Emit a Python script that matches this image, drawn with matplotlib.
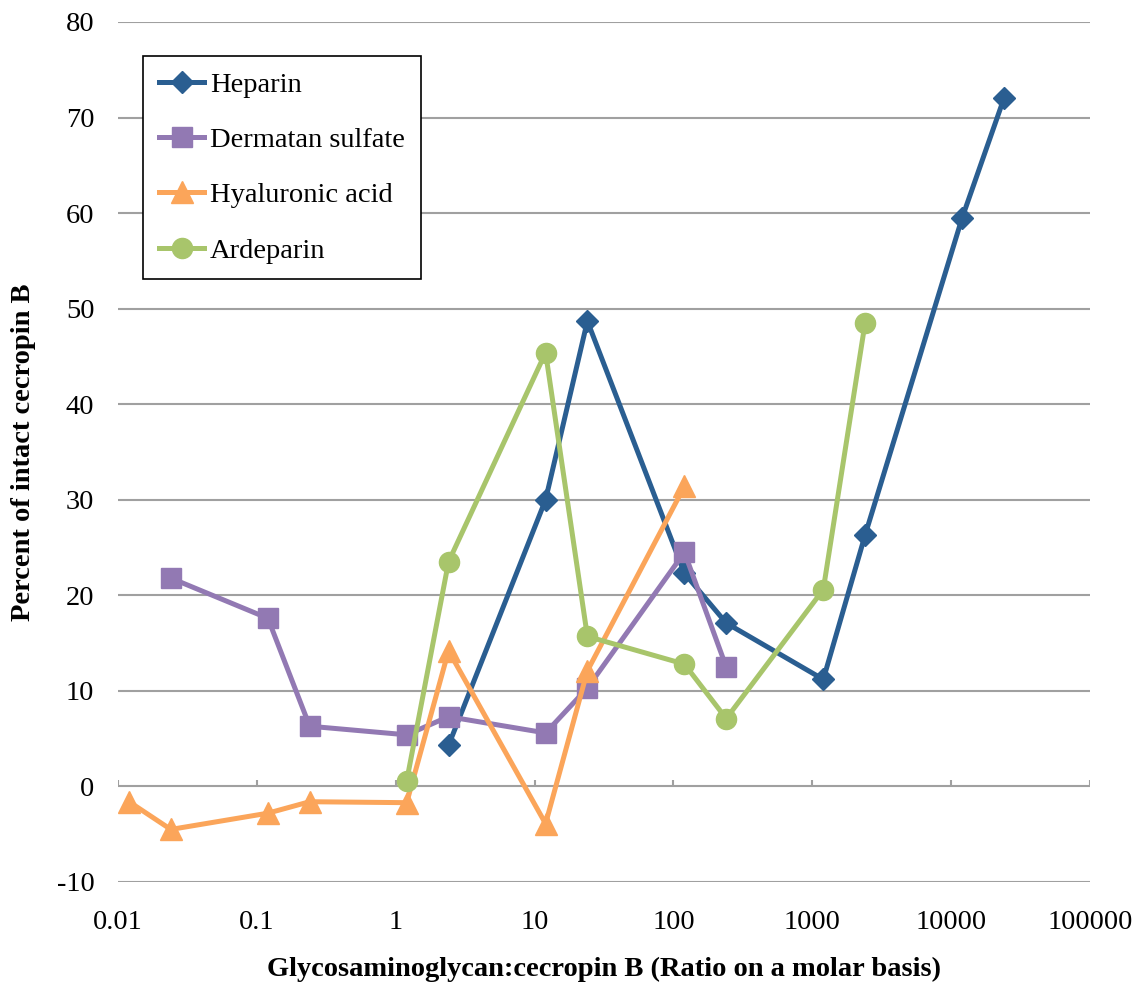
import matplotlib
matplotlib.use("Agg")
import matplotlib.pyplot as plt
from matplotlib.ticker import FixedLocator, FixedFormatter, NullLocator

plt.rcParams['font.family'] = ['Liberation Serif', 'DejaVu Serif']

# Molar ratio glycosaminoglycan:cecropin B
heparin_x = [2.4, 12, 24, 120, 240, 1200, 2400, 12000, 24000]
heparin_y = [4.3, 30.0, 48.7, 22.3, 17.1, 11.2, 26.3, 59.5, 72.0]

dermatan_x = [0.024, 0.12, 0.24, 1.2, 2.4, 12, 24, 120, 240]
dermatan_y = [21.8, 17.6, 6.3, 5.4, 7.3, 5.6, 10.3, 24.5, 12.5]

hyaluronic_x = [0.012, 0.024, 0.12, 0.24, 1.2, 2.4, 12, 24, 120]
hyaluronic_y = [-1.6, -4.5, -2.8, -1.6, -1.7, 14.2, -3.9, 12.1, 31.4]

ardeparin_x = [1.2, 2.4, 12, 24, 120, 240, 1200, 2400]
ardeparin_y = [0.6, 23.5, 45.4, 15.7, 12.8, 7.1, 20.6, 48.5]

x_ticks = [0.01, 0.1, 1, 10, 100, 1000, 10000, 100000]
x_tick_labels = ["0.01", "0.1", "1", "10", "100", "1000", "10000", "100000"]
y_ticks = [-10, 0, 10, 20, 30, 40, 50, 60, 70, 80]
y_tick_labels = ["-10", "0", "10", "20", "30", "40", "50", "60", "70", "80"]

fig = plt.figure(figsize=(11.36, 9.89), dpi=100)
ax = fig.add_axes([0.1039, 0.1082, 0.8556, 0.8696])

ax.set_xscale('log')
ax.set_xlim(0.01, 100000)
ax.set_ylim(-10, 80)

grid_color = '#A0A0A0'
for y in y_ticks:
    ax.axhline(y, color=grid_color, lw=1.5, zorder=0)

# decade ticks pointing up from the zero line
for xv in x_ticks:
    ax.plot([xv, xv], [0, 0.65], color=grid_color, lw=1.5, zorder=0,
            solid_capstyle='butt')

lw = 3.6
ax.plot(heparin_x, heparin_y, color='#2A5E91', lw=lw, marker='D', ms=11,
        label='Heparin', zorder=3)
ax.plot(dermatan_x, dermatan_y, color='#9279B3', lw=lw, marker='s', ms=14,
        label='Dermatan sulfate', zorder=4)
ax.plot(hyaluronic_x, hyaluronic_y, color='#FBA55A', lw=lw, marker='^', ms=15.5,
        label='Hyaluronic acid', zorder=5)
ax.plot(ardeparin_x, ardeparin_y, color='#A8C56B', lw=lw, marker='o', ms=14.5,
        label='Ardeparin', zorder=6)

for s in ax.spines.values():
    s.set_visible(False)

ax.xaxis.set_major_locator(FixedLocator(x_ticks))
ax.xaxis.set_major_formatter(FixedFormatter(x_tick_labels))
ax.xaxis.set_minor_locator(NullLocator())
ax.yaxis.set_major_locator(FixedLocator(y_ticks))
ax.yaxis.set_major_formatter(FixedFormatter(y_tick_labels))
ax.tick_params(axis='both', length=0, labelsize=20.5)
ax.tick_params(axis='x', pad=20)
ax.tick_params(axis='y', pad=17)

ax.set_xlabel('Glycosaminoglycan:cecropin B (Ratio on a molar basis)',
              fontsize=20.5, fontweight='bold')
ax.set_ylabel('Percent of intact cecropin B', fontsize=20.5, fontweight='bold')
ax.xaxis.set_label_coords(0.5, -0.0865)
ax.yaxis.set_label_coords(-0.084, 0.5)

leg = ax.legend(loc='upper left', bbox_to_anchor=(0.0258, 0.960),
                fontsize=20.5, frameon=True, fancybox=False, framealpha=1,
                edgecolor='black', handlelength=1.6, handletextpad=0.2,
                labelspacing=1.03, borderpad=0.55, borderaxespad=0)
leg.get_frame().set_linewidth(1.2)

fig.savefig('out.png', dpi=100)
